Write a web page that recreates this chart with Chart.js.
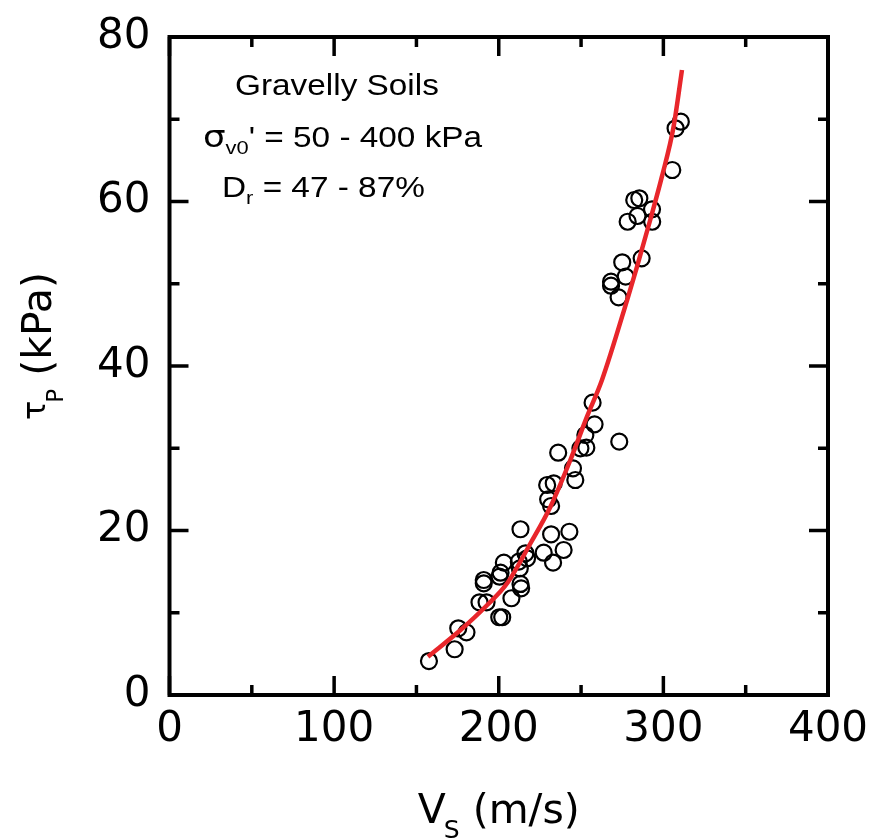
<!DOCTYPE html>
<html><head><meta charset="utf-8">
<script src="https://cdn.jsdelivr.net/npm/chart.js@4.4.0/dist/chart.umd.min.js"></script>
<style>html,body{margin:0;padding:0;background:#fff}#wrap{width:876px;height:840px;position:relative}</style>
</head><body><div id="wrap"><canvas id="c"></canvas></div>
<script>
// Measured points: shear wave velocity Vs (m/s) and peak shear stress tau_p (kPa)
const vsData = [157.6,173.2,175.4,180.4,188.3,192.6,190.9,190.9,200.3,202.1,207.7,200.5,201.1,203.1,212.2,212.8,213.2,213.6,216.2,217.2,213.2,227.3,233.0,231.8,239.4,242.9,229.4,233.4,230.0,231.8,236.1,245.1,246.5,249.6,253.2,252.6,257.0,258.2,273.2,268.2,268.2,272.8,275.0,277.1,278.3,282.3,285.4,284.3,286.8,293.1,293.2,305.4,307.4,310.6];
const tauData = [4.13,5.56,8.11,7.62,11.27,11.27,13.98,13.58,9.45,9.45,11.76,14.38,14.87,16.09,16.21,15.40,13.50,12.97,17.23,16.62,20.15,17.30,16.09,19.54,17.63,19.85,25.53,25.74,23.79,22.98,29.46,27.56,26.14,29.99,30.07,31.61,35.54,32.91,30.80,50.25,49.76,48.35,52.61,50.86,57.54,60.18,60.39,58.24,53.09,59.05,57.54,63.83,68.90,69.70];
// Fitted curve
const fitVs  = [157.0,176.8,193.0,205.1,219.3,231.4,243.5,253.6,262.7,278.3,284.0,292.0,299.1,306.2,311.3];
const fitTau = [4.66,7.90,10.94,13.58,18.45,22.89,28.57,33.84,38.30,48.23,52.07,57.75,63.02,69.09,75.99];
// Axis ticks
const xMajorTicks = [0,100,200,300,400];
const xMinorTicks = [50,150,250,350];
const yMajorTicks = [0,20,40,60,80];
const yMinorTicks = [10,30,50,70];
// Texts
const xTitleParts = ['V','S',' (m/s)'];
const yTitleParts = ['\u03C4','P',' (kPa)'];
const noteTitle = 'Gravelly Soils';
const noteSigma = ['\u03C3','v0','\' = 50 - 400 kPa'];
const noteDr = ['D','r',' = 47 - 87%'];

const pts = vsData.map((v,i)=>({x:v,y:tauData[i]}));
const fit = fitVs.map((v,i)=>({x:v,y:fitTau[i]}));

const framePlugin = {
  id:'frame',
  afterDatasetsDraw(chart){
    const {ctx, chartArea:a, scales:{x,y}} = chart;
    ctx.save();
    ctx.strokeStyle='#000';
    ctx.lineWidth=4;
    ctx.lineCap='butt';
    ctx.strokeRect(a.left,a.top,a.right-a.left,a.bottom-a.top);
    ctx.lineWidth=3.5;
    const tk=(arr,len)=>{
      arr.forEach(v=>{
        const px=x.getPixelForValue(v);
        ctx.beginPath();ctx.moveTo(px,a.bottom);ctx.lineTo(px,a.bottom-len);ctx.stroke();
        ctx.beginPath();ctx.moveTo(px,a.top);ctx.lineTo(px,a.top+len);ctx.stroke();
      });
    };
    const tky=(arr,len)=>{
      arr.forEach(v=>{
        const py=y.getPixelForValue(v);
        ctx.beginPath();ctx.moveTo(a.left,py);ctx.lineTo(a.left+len,py);ctx.stroke();
        ctx.beginPath();ctx.moveTo(a.right,py);ctx.lineTo(a.right-len,py);ctx.stroke();
      });
    };
    tk(xMajorTicks,19); tk(xMinorTicks,10);
    tky(yMajorTicks,19); tky(yMinorTicks,10);
    ctx.restore();
  },
  afterDraw(chart){
    const {ctx, chartArea:a} = chart;
    ctx.save();
    ctx.fillStyle='#000';
    ctx.textBaseline='alphabetic';
    ctx.textAlign='left';
    // x title
    const big='41px "DejaVu Sans"', sub='25px "DejaVu Sans"';
    ctx.font=big; const wV=ctx.measureText(xTitleParts[0]).width;
    ctx.font=sub; const wS=ctx.measureText(xTitleParts[1]).width;
    ctx.font=big; const wR=ctx.measureText(xTitleParts[2]).width;
    const tot=wV-2+wS+wR;
    let sx=(a.left+a.right)/2-tot/2;
    ctx.font=big; ctx.fillText(xTitleParts[0],sx,823);
    ctx.font=sub; ctx.fillText(xTitleParts[1],sx+wV-2,838);
    ctx.font=big; ctx.fillText(xTitleParts[2],sx+wV-2+wS,823);
    // y title (rotated)
    ctx.save();
    ctx.rotate(-Math.PI/2);
    ctx.font='32px "DejaVu Sans"'; const wt=ctx.measureText(yTitleParts[0]).width;
    ctx.fillText(yTitleParts[0],-420,45);
    ctx.font='23px "DejaVu Sans"'; const wp=ctx.measureText(yTitleParts[1]).width;
    ctx.fillText(yTitleParts[1],-420+wt-2,63);
    ctx.font=big;
    ctx.fillText(yTitleParts[2],-420+wt-2+wp,51);
    ctx.restore();
    // notes
    const st=1.15;
    const drawStretched=(parts,x0,base)=>{
      ctx.save();
      ctx.translate(x0,base);
      ctx.scale(st,1);
      let cx=0;
      parts.forEach(p=>{
        ctx.font=p.f;
        ctx.fillText(p.t,cx,p.dy||0);
        cx+=ctx.measureText(p.t).width+(p.gap||0);
      });
      ctx.restore();
    };
    const nf='29px "Liberation Sans"';
    drawStretched([{t:noteTitle,f:nf}],235,95);
    drawStretched([{t:noteSigma[0],f:'31px "DejaVu Sans"',gap:0},{t:noteSigma[1],f:'19px "Liberation Sans"',dy:7},{t:noteSigma[2],f:nf}],203,147);
    drawStretched([{t:noteDr[0],f:nf},{t:noteDr[1],f:'19px "Liberation Sans"',dy:7},{t:noteDr[2],f:nf}],222,197);
    ctx.restore();
  }
};

new Chart(document.getElementById('c'),{
  type:'scatter',
  data:{datasets:[
    {label:'fit',data:fit,showLine:true,borderColor:'#e8262b',borderWidth:4.5,pointRadius:0,cubicInterpolationMode:'monotone',fill:false,order:0},
    {label:'data',data:pts,showLine:false,pointStyle:'circle',pointRadius:8,borderWidth:2.2,borderColor:'#000',backgroundColor:'rgba(0,0,0,0)',order:1}
  ]},
  options:{
    responsive:true,maintainAspectRatio:false,animation:false,
    layout:{padding:{top:37,right:48,left:0,bottom:0}},
    plugins:{legend:{display:false},tooltip:{enabled:false}},
    scales:{
      x:{type:'linear',min:0,max:400,
        afterBuildTicks:s=>{s.ticks=xMajorTicks.map(v=>({value:v}));},
        afterFit:s=>{s.height=145;s.paddingLeft=0;s.paddingRight=0;},
        grid:{display:false,drawTicks:false},border:{display:false},
        ticks:{font:{family:'DejaVu Sans',size:42},color:'#000',padding:10,maxRotation:0,autoSkip:false}},
      y:{type:'linear',min:0,max:80,
        afterBuildTicks:s=>{s.ticks=yMajorTicks.map(v=>({value:v}));},
        afterFit:s=>{s.width=169.5;s.paddingTop=0;s.paddingBottom=0;},
        grid:{display:false,drawTicks:false},border:{display:false},
        ticks:{font:{family:'DejaVu Sans',size:42},color:'#000',padding:19,autoSkip:false}}
    }
  },
  plugins:[framePlugin]
});
</script>
</body></html>
